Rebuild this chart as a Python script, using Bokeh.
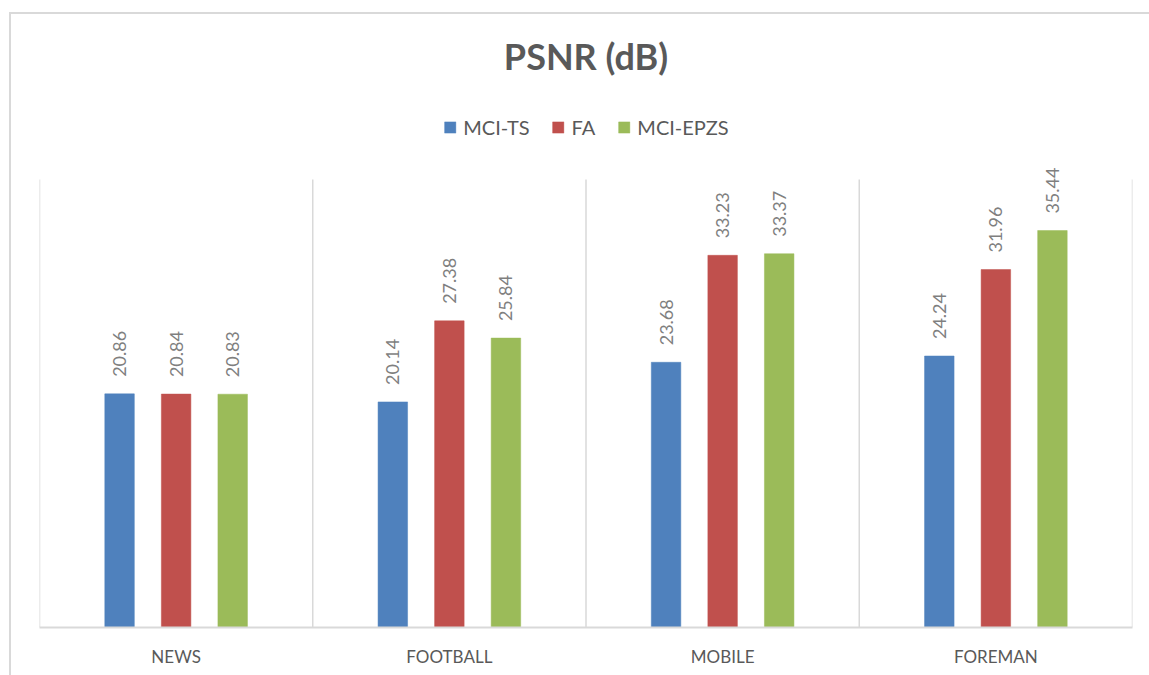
import math
from bokeh.plotting import figure
from bokeh.models import FactorRange, Range1d, ColumnDataSource
from bokeh.transform import dodge
from bokeh.core.properties import value
from bokeh.embed import file_html
from bokeh.resources import INLINE

# ---- data ----
categories = ["NEWS", "FOOTBALL", "MOBILE", "FOREMAN"]
series_names = ["MCI-TS", "FA", "MCI-EPZS"]
mci_ts = [20.86, 20.14, 23.68, 24.24]
fa = [20.84, 27.38, 33.23, 31.96]
mci_epzs = [20.83, 25.84, 33.37, 35.44]
y_axis_max = 40

# ---- styles ----
colors = ["#4f81bd", "#c0504d", "#9bbb59"]
offsets = [-0.207, 0.0, 0.207]
bar_width = 0.108
FONT = "Lato"
TEXT_COLOR = "#595959"
LABEL_COLOR = "#7f7f7f"
GRID_COLOR = "#d9d9d9"

W, H = 1149, 675
frame_left_px, frame_right_px = 39, 1132
frame_top_px, frame_bottom_px = 100, 627
axis_top_px = 179
frame_h = frame_bottom_px - frame_top_px
y_end = y_axis_max * frame_h / (frame_bottom_px - axis_top_px)

src = ColumnDataSource(dict(cat=categories, s0=mci_ts, s1=fa, s2=mci_epzs,
                            l0=[f"{v:.2f}" for v in mci_ts],
                            l1=[f"{v:.2f}" for v in fa],
                            l2=[f"{v:.2f}" for v in mci_epzs]))

p = figure(width=W, height=H, x_range=FactorRange(*categories, range_padding=0),
           y_range=Range1d(0, y_end), output_backend="svg", toolbar_location=None,
           min_border_left=frame_left_px, min_border_right=W - frame_right_px,
           min_border_top=frame_top_px, min_border_bottom=H - frame_bottom_px,
           title="PSNR (dB)")

p.title.align = "center"
p.title.text_font = FONT
p.title.text_font_size = "36px"
p.title.text_font_style = "bold"
p.title.text_color = TEXT_COLOR
p.title.standoff = 46

p.outline_line_color = None
p.background_fill_color = "white"
p.border_fill_color = None
# outer chart border: thin light-grey L at the top-left (rest lies off-window)
p.styles = {"box-shadow": f"inset 9px 12px 0 0 white, inset 11px 14px 0 0 {GRID_COLOR}"}
p.xgrid.grid_line_color = None
p.ygrid.grid_line_color = None
p.yaxis.visible = False

# category boundary grid lines
bounds = list(range(len(categories) + 1))
p.segment(x0=bounds, x1=bounds, y0=[0] * len(bounds), y1=[y_axis_max] * len(bounds),
          line_color=GRID_COLOR, line_width=1.5)

for i, name in enumerate(series_names):
    p.vbar(x=dodge("cat", offsets[i], range=p.x_range), top=f"s{i}", width=bar_width,
           source=src, fill_color=colors[i], line_color=colors[i], line_width=0.5,
           legend_label=name)
    p.text(x=dodge("cat", offsets[i], range=p.x_range), y=f"s{i}", text=f"l{i}",
           source=src, angle=math.pi / 2, text_align="left", text_baseline="middle",
           y_offset=-17, text_font=value(FONT), text_font_size="18px",
           text_color=LABEL_COLOR)

ax = p.xaxis[0]
ax.axis_line_color = GRID_COLOR
ax.axis_line_width = 2
ax.major_tick_line_color = None
ax.minor_tick_line_color = None
ax.major_tick_out = 0
ax.major_tick_in = 0
ax.major_label_standoff = 18
ax.major_label_text_font = FONT
ax.major_label_text_font_size = "17px"
ax.major_label_text_color = TEXT_COLOR

lg = p.legend[0]
lg.location = "top_center"
lg.orientation = "horizontal"
lg.glyph_width = 14
lg.glyph_height = 14
lg.label_standoff = 7
lg.spacing = 21
lg.padding = 0
lg.margin = 15
lg.border_line_color = None
lg.background_fill_alpha = 0
lg.label_text_font = FONT
lg.label_text_font_size = "20px"
lg.label_text_color = TEXT_COLOR

open("out.html", "w").write(file_html(p, INLINE))
